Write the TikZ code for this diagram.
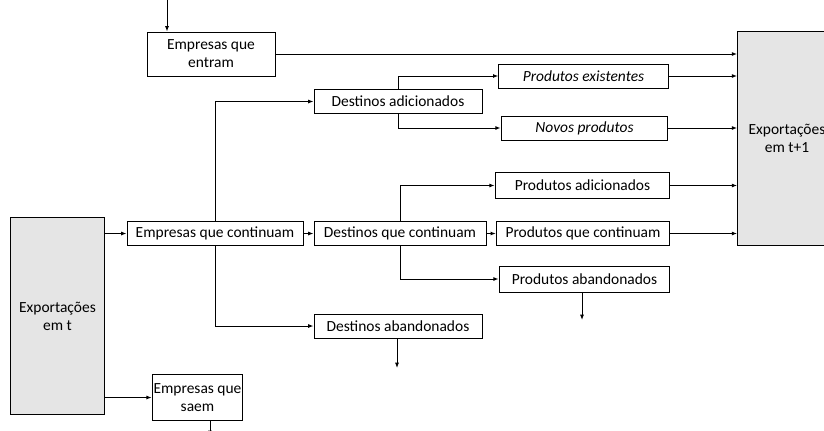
\documentclass[tikz,border=0pt]{standalone}
\usepackage{fontspec}
\setmainfont{Carlito}
\usetikzlibrary{arrows.meta}
\begin{document}
\begin{tikzpicture}[x = 0.75pt, y = -0.75pt, line width = 0.75pt,
	box/.style = {draw, fill = white, align = center, inner sep = 1pt, font = \fontsize{11.6}{13.5}\selectfont},
	big/.style = {box, fill = black!10},
	arr/.style = {-{Latex[length = 4pt, width = 3pt]}}]
	\useasboundingbox (0,0) rectangle (824,430);
	\begin{scope}
		\clip (0,0) rectangle (824,430);
		\node[big, minimum width = 74pt, minimum height = 160pt] (expt1) at (787,138.5) {Exportações\\em t+1};
	\end{scope}
	\node[big, minimum width = 71pt, minimum height = 148pt] (expt) at (57.5,316) {Exportações\\em t};
	\node[box, minimum width = 96pt, minimum height = 33pt] (entram) at (211,54) {Empresas que\\entram};
	\node[box, minimum width = 67pt, minimum height = 34pt] (saem) at (197.5,397.5) {Empresas que\\saem};
	\node[box, minimum width = 132pt, minimum height = 17.5pt] (cont) at (215,233.5) {Empresas que continuam};
	\node[box, minimum width = 129pt, minimum height = 17.5pt] (dcont) at (400,233.5) {Destinos que continuam};
	\node[box, minimum width = 126pt, minimum height = 17.5pt] (dadic) at (398,101.5) {Destinos adicionados};
	\node[box, minimum width = 126pt, minimum height = 18pt] (daban) at (398,326) {Destinos abandonados};
	\node[box, minimum width = 127pt, minimum height = 18pt] (pexist) at (583.5,76) {\itshape Produtos existentes};
	\node[box, minimum width = 125pt, minimum height = 18pt] (pnovo) at (584.5,128) {\itshape Novos produtos};
	\node[box, minimum width = 131pt, minimum height = 19pt] (padic) at (582.5,185.5) {Produtos adicionados};
	\node[box, minimum width = 130pt, minimum height = 17.5pt] (pcont) at (583,233.5) {Produtos que continuam};
	\node[box, minimum width = 128pt, minimum height = 19.5pt] (paban) at (584.5,279) {Produtos abandonados};
	\coordinate (entra) at (167,-2);
	\coordinate (sai) at (210,436);
	\coordinate (pfora) at (582,320);
	\coordinate (dfora) at (397,368);
	\draw[arr] (entra) -- (entra |- entram.north);
	\draw[arr] (entram.east) -- (entram.east -| expt1.west);
	\draw[arr] (pexist.east) -- (pexist.east -| expt1.west);
	\draw[arr] (pnovo.east) -- (pnovo.east -| expt1.west);
	\draw[arr] (padic.east) -- (padic.east -| expt1.west);
	\draw[arr] (pcont.east) -- (pcont.east -| expt1.west);
	\draw[arr] (cont.west -| expt.east) -- (cont.west);
	\draw[arr] (saem.west -| expt.east) -- (saem.west);
	\draw[arr] (cont) -- (dcont);
	\draw[arr] (dcont) -- (pcont);
	\draw[arr] (cont.north) |- (dadic.west);
	\draw[arr] (cont.south) |- (daban.west);
	\draw[arr] (dadic.north) |- (pexist.west);
	\draw[arr] (dadic.south) |- (pnovo.west);
	\draw[arr] (dcont.north) |- (padic.west);
	\draw[arr] (dcont.south) |- (paban.west);
	\draw[arr] (pfora |- paban.south) -- (pfora);
	\draw[arr] (dfora |- daban.south) -- (dfora);
	\draw[arr] (sai |- saem.south) -- (sai);
\end{tikzpicture}
\end{document}
